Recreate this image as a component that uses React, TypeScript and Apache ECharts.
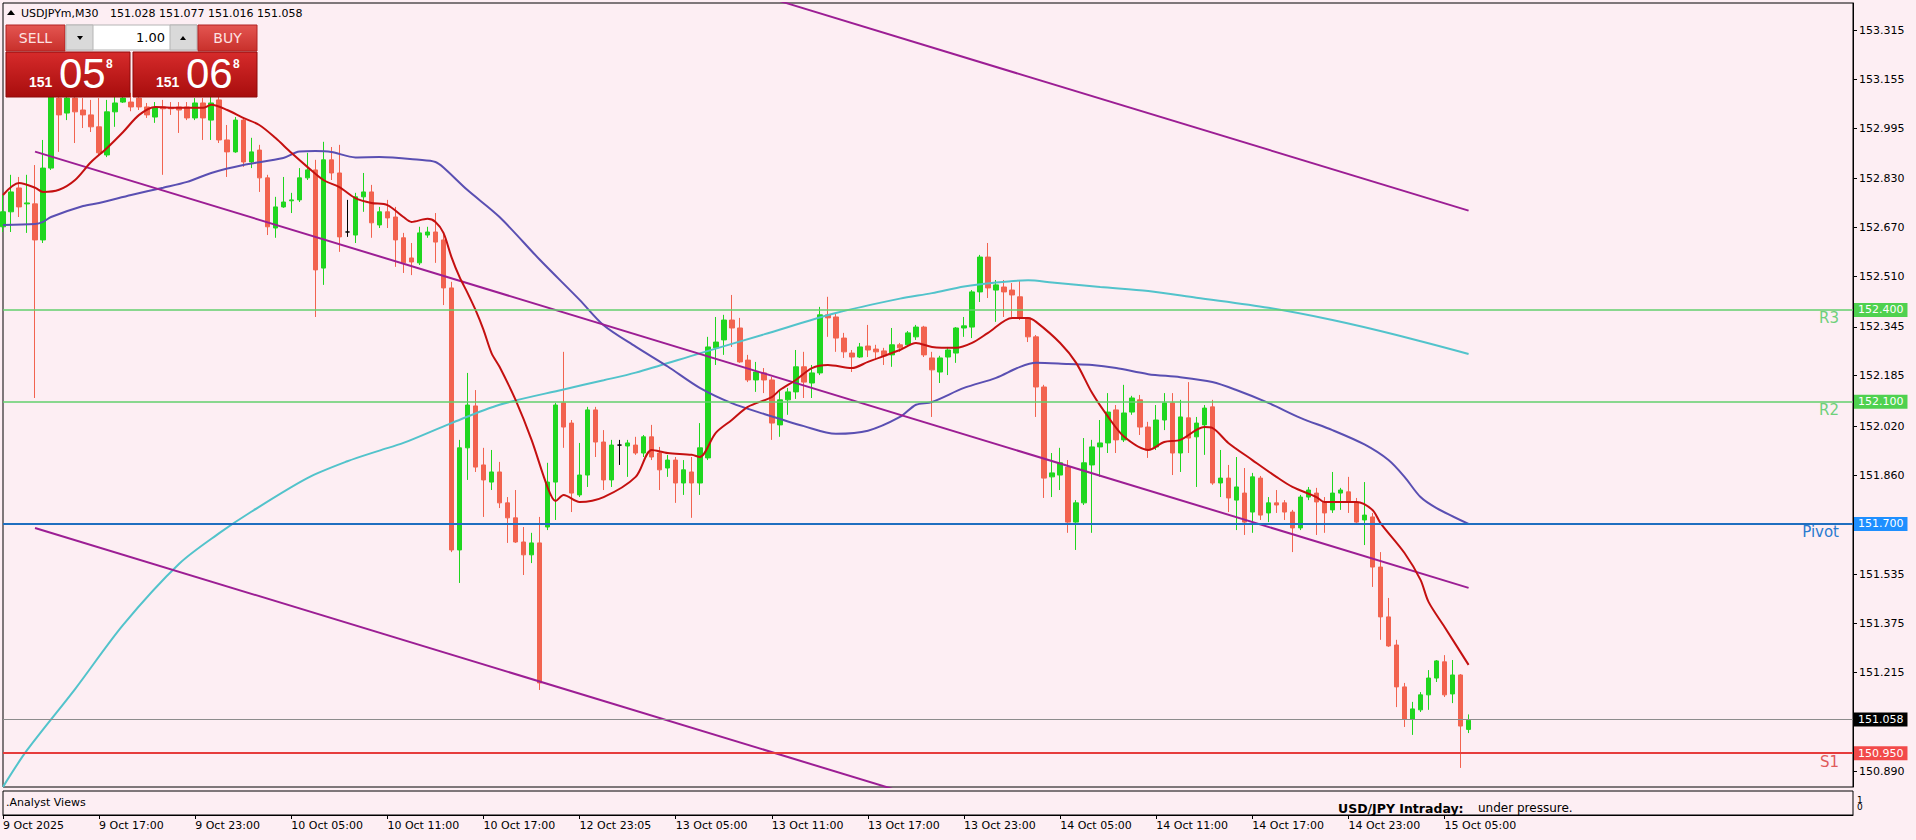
import React, { useEffect, useRef } from "react";
import * as echarts from "echarts";

// ---------- data ----------
const symbolName = "USDJPYm,M30";
const ohlcHeader = [151.028, 151.077, 151.016, 151.058];
const bidParts = ["151", "05", "8"];
const askParts = ["151", "06", "8"];
const lotSize = "1.00";
const indicatorName = ".Analyst Views";
const analystTitle = "USD/JPY Intraday:";
const analystText = "under pressure.";

// one entry per M30 bar: [open, high, low, close]
const candles: number[][] = [
  [152.672, 152.776, 152.655, 152.721], [152.721, 152.842, 152.655, 152.786], [152.799, 152.835, 152.704, 152.737], [152.747, 152.842, 152.652, 152.750],
  [152.747, 152.874, 152.112, 152.629], [152.629, 152.956, 152.619, 152.864], [152.864, 153.169, 152.858, 153.103], [153.093, 153.120, 152.917, 153.038],
  [153.044, 153.120, 153.021, 153.093], [153.093, 153.113, 152.946, 153.048], [153.054, 153.093, 152.995, 153.038], [153.038, 153.087, 152.982, 152.999],
  [152.999, 153.093, 152.907, 152.914], [152.907, 153.087, 152.900, 153.048], [153.048, 153.097, 152.999, 153.077], [153.080, 153.103, 153.077, 153.093],
  [153.080, 153.110, 153.050, 153.064], [153.093, 153.103, 153.054, 153.064], [153.064, 153.077, 153.028, 153.038], [153.031, 153.080, 153.012, 153.061],
  [153.064, 153.087, 152.842, 153.058], [153.061, 153.080, 153.038, 153.058], [153.064, 153.080, 152.979, 153.054], [153.064, 153.080, 153.021, 153.028],
  [153.028, 153.093, 153.021, 153.077], [153.077, 153.093, 152.956, 153.028], [153.021, 153.097, 152.956, 153.077], [153.087, 153.097, 152.946, 152.956],
  [152.956, 153.005, 152.835, 152.917], [152.917, 153.031, 152.914, 153.021], [153.021, 153.028, 152.868, 152.884], [152.884, 152.963, 152.864, 152.917],
  [152.923, 152.940, 152.786, 152.832], [152.832, 152.842, 152.645, 152.672], [152.668, 152.770, 152.636, 152.737], [152.737, 152.835, 152.734, 152.753],
  [152.757, 152.783, 152.717, 152.760], [152.760, 152.864, 152.753, 152.832], [152.832, 152.914, 152.825, 152.858], [152.858, 152.891, 152.377, 152.531],
  [152.537, 152.950, 152.482, 152.891], [152.891, 152.933, 152.825, 152.848], [152.848, 152.940, 152.590, 152.639], [152.655, 152.760, 152.639, 152.655],
  [152.645, 152.783, 152.619, 152.770], [152.770, 152.848, 152.721, 152.786], [152.786, 152.809, 152.636, 152.685], [152.678, 152.737, 152.668, 152.721],
  [152.721, 152.760, 152.668, 152.701], [152.704, 152.737, 152.541, 152.629], [152.636, 152.652, 152.521, 152.554], [152.570, 152.619, 152.514, 152.557],
  [152.554, 152.672, 152.547, 152.652], [152.645, 152.672, 152.636, 152.655], [152.655, 152.717, 152.554, 152.622], [152.629, 152.652, 152.416, 152.472],
  [152.472, 152.492, 151.608, 151.615], [151.615, 151.975, 151.507, 151.949], [151.949, 152.194, 151.844, 152.089], [152.086, 152.138, 151.870, 151.886],
  [151.893, 151.949, 151.723, 151.844], [151.837, 151.942, 151.811, 151.870], [151.870, 151.903, 151.752, 151.769], [151.769, 151.788, 151.638, 151.720],
  [151.720, 151.811, 151.638, 151.641], [151.641, 151.690, 151.533, 151.599], [151.599, 151.671, 151.572, 151.638], [151.638, 151.723, 151.157, 151.180],
  [151.690, 151.900, 151.680, 151.837], [151.837, 152.096, 151.713, 152.089], [152.096, 152.263, 151.949, 152.017], [152.030, 152.040, 151.739, 151.801],
  [151.795, 151.965, 151.788, 151.860], [151.860, 152.083, 151.821, 152.073], [152.073, 152.083, 151.919, 151.968], [151.968, 152.007, 151.811, 151.844],
  [151.844, 151.975, 151.821, 151.958], [151.958, 151.975, 151.893, 151.958], [151.955, 151.975, 151.854, 151.965], [151.958, 151.985, 151.926, 151.932],
  [151.932, 151.991, 151.919, 151.985], [151.985, 152.024, 151.909, 151.919], [151.932, 151.952, 151.811, 151.877], [151.883, 151.926, 151.854, 151.909],
  [151.909, 151.919, 151.769, 151.834], [151.834, 151.909, 151.795, 151.877], [151.870, 151.919, 151.720, 151.834], [151.834, 152.030, 151.795, 151.949],
  [151.916, 152.312, 151.909, 152.279], [152.276, 152.377, 152.220, 152.295], [152.302, 152.384, 152.253, 152.367], [152.367, 152.449, 152.279, 152.341],
  [152.341, 152.374, 152.227, 152.230], [152.236, 152.253, 152.164, 152.171], [152.171, 152.230, 152.132, 152.197], [152.194, 152.210, 152.128, 152.171],
  [152.171, 152.181, 151.975, 152.030], [152.024, 152.138, 151.985, 152.106], [152.106, 152.145, 152.057, 152.132], [152.132, 152.269, 152.109, 152.214],
  [152.214, 152.263, 152.112, 152.164], [152.161, 152.220, 152.112, 152.194], [152.194, 152.410, 152.187, 152.384], [152.384, 152.443, 152.312, 152.374],
  [152.377, 152.390, 152.263, 152.308], [152.308, 152.325, 152.243, 152.263], [152.259, 152.269, 152.197, 152.246], [152.246, 152.292, 152.243, 152.279],
  [152.282, 152.351, 152.246, 152.269], [152.272, 152.286, 152.236, 152.263], [152.266, 152.276, 152.220, 152.250], [152.253, 152.341, 152.214, 152.286],
  [152.286, 152.292, 152.263, 152.276], [152.286, 152.331, 152.279, 152.325], [152.312, 152.351, 152.302, 152.344], [152.344, 152.348, 152.246, 152.253],
  [152.243, 152.263, 152.050, 152.204], [152.197, 152.250, 152.161, 152.243], [152.246, 152.279, 152.187, 152.269], [152.259, 152.344, 152.227, 152.341],
  [152.341, 152.377, 152.312, 152.348], [152.344, 152.465, 152.308, 152.459], [152.459, 152.580, 152.426, 152.573], [152.573, 152.619, 152.439, 152.472],
  [152.465, 152.498, 152.361, 152.482], [152.475, 152.498, 152.377, 152.459], [152.465, 152.488, 152.377, 152.449], [152.443, 152.498, 152.367, 152.377],
  [152.374, 152.377, 152.295, 152.312], [152.312, 152.318, 152.050, 152.148], [152.148, 152.155, 151.785, 151.850], [151.854, 151.932, 151.788, 151.867],
  [151.860, 151.949, 151.811, 151.900], [151.886, 151.909, 151.671, 151.706], [151.706, 151.778, 151.615, 151.769], [151.769, 151.981, 151.762, 151.900],
  [151.893, 151.975, 151.671, 151.952], [151.952, 152.040, 151.854, 151.965], [151.965, 152.128, 151.932, 152.066], [152.073, 152.089, 151.932, 151.975],
  [151.975, 152.155, 151.968, 152.063], [152.066, 152.119, 152.057, 152.112], [152.106, 152.122, 151.991, 152.017], [152.017, 152.034, 151.916, 151.942],
  [151.952, 152.089, 151.942, 152.040], [152.040, 152.128, 152.007, 152.096], [152.096, 152.128, 151.860, 151.932], [151.932, 152.106, 151.870, 152.050],
  [152.047, 152.164, 151.932, 151.981], [151.985, 152.050, 151.821, 152.030], [152.024, 152.089, 151.926, 152.079], [152.083, 152.106, 151.828, 151.834],
  [151.834, 151.942, 151.788, 151.850], [151.850, 151.893, 151.739, 151.785], [151.778, 151.919, 151.680, 151.821], [151.801, 151.883, 151.664, 151.706],
  [151.739, 151.867, 151.671, 151.854], [151.850, 151.857, 151.713, 151.729], [151.736, 151.788, 151.706, 151.769], [151.769, 151.811, 151.736, 151.762],
  [151.769, 151.778, 151.713, 151.739], [151.739, 151.746, 151.608, 151.687], [151.687, 151.795, 151.680, 151.788], [151.788, 151.821, 151.778, 151.811],
  [151.801, 151.818, 151.664, 151.772], [151.772, 151.788, 151.671, 151.736], [151.746, 151.870, 151.736, 151.801], [151.801, 151.818, 151.746, 151.811],
  [151.805, 151.854, 151.736, 151.772], [151.772, 151.785, 151.697, 151.706], [151.713, 151.837, 151.631, 151.729], [151.723, 151.736, 151.494, 151.559],
  [151.559, 151.608, 151.321, 151.396], [151.396, 151.458, 151.298, 151.301], [151.304, 151.321, 151.101, 151.167], [151.167, 151.180, 151.036, 151.062],
  [151.062, 151.118, 151.010, 151.095], [151.092, 151.150, 151.085, 151.141], [151.141, 151.222, 151.092, 151.196], [151.196, 151.255, 151.183, 151.252],
  [151.249, 151.271, 151.134, 151.141], [151.144, 151.255, 151.114, 151.206], [151.206, 151.209, 150.902, 151.039], [151.028, 151.077, 151.016, 151.058],
];

const totalSlots = 232; // bars + empty right shift
const timeLabels = [
  "9 Oct 2025", "9 Oct 17:00", "9 Oct 23:00", "10 Oct 05:00", "10 Oct 11:00", "10 Oct 17:00", "12 Oct 23:05", "13 Oct 05:00",
  "13 Oct 11:00", "13 Oct 17:00", "13 Oct 23:00", "14 Oct 05:00", "14 Oct 11:00", "14 Oct 17:00", "14 Oct 23:00", "15 Oct 05:00",
];
const priceTicks = [153.315, 153.155, 152.995, 152.83, 152.67, 152.51, 152.345, 152.185, 152.02, 151.86, 151.535, 151.375, 151.215, 150.89];
const priceMin = 150.8396;
const priceMax = 153.404;

const levelNames = ["R3", "R2", "Pivot", "S1"];
const levelValues = [152.4, 152.1, 151.7, 150.95];
const lastPrice = 151.058;

const redMA = [
  [0, 152.776], [2, 152.815], [4, 152.8], [5, 152.786], [7, 152.793], [9, 152.825], [11, 152.884], [13, 152.93], [15, 152.982], [17, 153.038],
  [19, 153.064], [22, 153.061], [25, 153.061], [26, 153.071], [28, 153.054], [30, 153.028], [32, 153.005], [34, 152.963], [36, 152.914], [38, 152.868],
  [40, 152.825], [42, 152.802], [44, 152.766], [46, 152.75], [48, 152.743], [50, 152.704], [51, 152.688], [53, 152.698], [54, 152.688], [55, 152.652],
  [56, 152.573], [57, 152.508], [58, 152.456], [59, 152.4], [60, 152.335], [61, 152.259], [62, 152.214], [64, 152.106], [66, 151.975], [68, 151.82],
  [69, 151.775], [70, 151.795], [72, 151.772], [75, 151.788], [79, 151.854], [81, 151.942], [83, 151.932], [86, 151.926], [87, 151.919], [89, 151.998],
  [91, 152.04], [93, 152.083], [96, 152.115], [97, 152.138], [99, 152.171], [101, 152.21], [103, 152.22], [106, 152.21], [108, 152.23], [112, 152.269],
  [114, 152.292], [116, 152.279], [119, 152.276], [121, 152.292], [123, 152.325], [126, 152.374], [128, 152.374], [129, 152.361], [132, 152.292], [134, 152.227],
  [136, 152.128], [138, 152.05], [140, 151.985], [143, 151.942], [145, 151.968], [147, 151.975], [150, 152.017], [151, 152.014], [153, 151.965], [156, 151.909],
  [159, 151.854], [161, 151.821], [164, 151.788], [165, 151.772], [169, 151.772], [171, 151.746], [172, 151.703], [175, 151.605], [177, 151.517], [178, 151.445],
  [180, 151.363], [183, 151.239],
];
const purpleMA = [
  [0, 152.678], [4, 152.681], [5, 152.688], [6, 152.704], [10, 152.74], [12, 152.75], [16, 152.776], [20, 152.8], [23, 152.819], [26, 152.848],
  [30, 152.874], [35, 152.897], [37, 152.918], [39, 152.92], [41, 152.917], [44, 152.899], [47, 152.9], [52, 152.891], [54, 152.884], [55, 152.866],
  [58, 152.792], [62, 152.704], [67, 152.565], [72, 152.433], [75, 152.35], [79, 152.28], [83, 152.215], [87, 152.145], [91, 152.095], [95, 152.06],
  [100, 152.02], [104, 151.995], [108, 152.005], [112, 152.05], [114, 152.09], [116, 152.099], [120, 152.145], [124, 152.178], [127, 152.214], [129, 152.227],
  [133, 152.223], [136, 152.22], [139, 152.21], [143, 152.19], [147, 152.18], [151, 152.164], [154, 152.138], [158, 152.096], [162, 152.047], [166, 152.007],
  [170, 151.96], [173, 151.909], [175, 151.854], [177, 151.788], [179, 151.752], [183, 151.7],
];
const cyanMA = [
  [0, 150.84], [3, 150.96], [9, 151.16], [15, 151.37], [22, 151.57], [27, 151.67], [31, 151.74], [38, 151.85], [43, 151.905], [47, 151.94],
  [50, 151.965], [56, 152.03], [62, 152.09], [70, 152.14], [75, 152.17], [79, 152.195], [87, 152.258], [95, 152.32], [104, 152.39], [112, 152.437],
  [116, 152.455], [120, 152.477], [124, 152.49], [128, 152.497], [131, 152.49], [137, 152.475], [143, 152.462], [149, 152.44], [158, 152.407], [166, 152.367],
  [174, 152.318], [183, 152.256],
];
const channelUpper = [[97, 153.41], [183, 152.725]];
const channelMiddle = [[4, 152.918], [183, 151.491]];
const channelLower = [[4, 151.687], [111, 150.834]];

// ---------- styles ----------
const BG = "#fdeef3";
const FONT = "DejaVu Sans";
const BULL = "#1fd61f";
const BEAR = "#f2634f";
const levelStyle = [
  { line: "#62cf6c", box: "#4fd14f", text: "#6fd07a", width: 1.5 },
  { line: "#62cf6c", box: "#4fd14f", text: "#6fd07a", width: 1.5 },
  { line: "#1f6fc0", box: "#1e8fff", text: "#2a7bd0", width: 2 },
  { line: "#e63c3c", box: "#f24a4a", text: "#e05a5a", width: 2 },
];

function t(text: string, x: number, y: number, font: string, fill: string, align = "left") {
  return { type: "text", z: 101, x, y, style: { text, font, fill, align, verticalAlign: "middle" } };
}

export default function App() {
  const ref = useRef<HTMLDivElement>(null);

  useEffect(() => {
    const chart = echarts.init(ref.current!, null, { renderer: "svg", width: 1916, height: 840 });
    const categories = Array.from({ length: totalSlots }, (_, i) => String(i));
    const candleData = candles.map(([o, h, l, c]) => [o, c, l, h]);
    const showIdx = (i: number) => i % 12 === 0 && i / 12 < timeLabels.length;

    const markData: any[] = [];
    const nameMarks: any[] = [];
    levelValues.forEach((v, k) => {
      const s = levelStyle[k];
      markData.push({
        yAxis: v,
        lineStyle: { color: s.line, width: s.width, type: "solid" },
        label: {
          show: true, position: "end", formatter: v.toFixed(3), backgroundColor: s.box, color: "#fff",
          padding: [2, 4, 1, 4], distance: 1, fontSize: 11, fontFamily: FONT,
        },
      });
      nameMarks.push({
        yAxis: v,
        lineStyle: { color: "rgba(0,0,0,0)", width: 1 },
        label: {
          show: true, position: "insideEndBottom", formatter: levelNames[k], color: s.text,
          fontSize: 15, fontFamily: FONT, distance: [14, 1],
        },
      });
    });
    markData.push({
      yAxis: lastPrice,
      lineStyle: { color: "#8c8c8c", width: 1, type: "solid" },
      label: {
        show: true, position: "end", formatter: lastPrice.toFixed(3), backgroundColor: "#000", color: "#fff",
        padding: [2, 4, 1, 4], distance: 1, fontSize: 11, fontFamily: FONT,
      },
    });

    const gradBtn = () => new echarts.graphic.LinearGradient(0, 0, 0, 1, [
      { offset: 0, color: "#e45551" }, { offset: 1, color: "#c8302b" },
    ]);
    const gradBig = () => new echarts.graphic.LinearGradient(0, 0, 0, 1, [
      { offset: 0, color: "#d62b2b" }, { offset: 1, color: "#a80d0d" },
    ]);

    const graphic: any[] = [
      { type: "polygon", z: 101, shape: { points: [[7, 15], [15, 15], [11, 10]] }, style: { fill: "#000" } },
      t(symbolName, 21, 13, `11px ${FONT}`, "#000"),
      t(ohlcHeader.map((v) => v.toFixed(3)).join(" "), 110, 13, `11px ${FONT}`, "#000"),
      // trade panel
      { type: "rect", z: 100, shape: { x: 6, y: 25, width: 59, height: 26 }, style: { fill: gradBtn(), stroke: "#b02222", lineWidth: 1 } },
      { type: "rect", z: 100, shape: { x: 66, y: 25, width: 131, height: 25 }, style: { fill: "#fff", stroke: "#b5b5b5", lineWidth: 1 } },
      { type: "rect", z: 100, shape: { x: 66, y: 25, width: 27, height: 25 }, style: { fill: "#d9d9d9", stroke: "#b5b5b5", lineWidth: 1 } },
      { type: "rect", z: 100, shape: { x: 170, y: 25, width: 27, height: 25 }, style: { fill: "#d9d9d9", stroke: "#b5b5b5", lineWidth: 1 } },
      { type: "polygon", z: 101, shape: { points: [[77, 36], [83, 36], [80, 40]] }, style: { fill: "#000" } },
      { type: "polygon", z: 101, shape: { points: [[180, 40], [186, 40], [183, 36]] }, style: { fill: "#000" } },
      t(lotSize, 165, 37.5, `13px ${FONT}`, "#000", "right"),
      { type: "rect", z: 100, shape: { x: 198, y: 25, width: 59, height: 26 }, style: { fill: gradBtn(), stroke: "#b02222", lineWidth: 1 } },
      t("SELL", 35.5, 38, `14px ${FONT}`, "#fde2e2", "center"),
      t("BUY", 227.5, 38, `14px ${FONT}`, "#fde2e2", "center"),
      { type: "rect", z: 100, shape: { x: 6, y: 52, width: 124, height: 45 }, style: { fill: gradBig(), stroke: "#8e0b0b", lineWidth: 1 } },
      { type: "rect", z: 100, shape: { x: 133, y: 52, width: 124, height: 45 }, style: { fill: gradBig(), stroke: "#8e0b0b", lineWidth: 1 } },
      t(bidParts[0], 29, 82, "bold 14px Liberation Sans", "#fff"),
      t(bidParts[1], 59, 73, "42px Liberation Sans", "#fff"),
      t(bidParts[2], 106, 64, "bold 12px Liberation Sans", "#fff"),
      t(askParts[0], 156, 82, "bold 14px Liberation Sans", "#fff"),
      t(askParts[1], 186, 73, "42px Liberation Sans", "#fff"),
      t(askParts[2], 233, 64, "bold 12px Liberation Sans", "#fff"),
      // sub window
      t(indicatorName, 6, 802, `11px ${FONT}`, "#000"),
      t(analystTitle, 1338, 808, `bold 12.5px ${FONT}`, "#000"),
      t(analystText, 1478, 808, `12px ${FONT}`, "#000"),
      t("1", 1857, 800, `9px ${FONT}`, "#000"),
      t("0", 1857, 807, `9px ${FONT}`, "#000"),
    ];

    const lineSeries = (data: number[][], color: string, width: number, z: number, smooth: number | boolean) => ({
      type: "line", xAxisIndex: 0, yAxisIndex: 0, data, showSymbol: false, symbol: "none", smooth, z,
      lineStyle: { color, width }, silent: true, clip: true,
    });

    chart.setOption({
      animation: false,
      backgroundColor: BG,
      textStyle: { fontFamily: FONT },
      grid: [
        { left: 3, top: 3, width: 1850, height: 784, show: true, borderColor: "#000", borderWidth: 1, backgroundColor: "transparent" },
        { left: 3, top: 791, width: 1850, height: 24, show: true, borderColor: "#000", borderWidth: 1, backgroundColor: "transparent" },
      ],
      xAxis: [
        { type: "category", gridIndex: 0, data: categories, boundaryGap: false, show: false },
        {
          type: "category", gridIndex: 1, data: categories, boundaryGap: false, position: "bottom",
          axisLine: { show: true, lineStyle: { color: "#000", width: 1 } },
          axisTick: { show: true, interval: (i: number) => showIdx(i), length: 4, inside: false, lineStyle: { color: "#000" } },
          axisLabel: {
            show: true, interval: (i: number) => showIdx(i), align: "left", margin: 5, color: "#000",
            fontSize: 11, fontFamily: FONT, formatter: (_v: string, i: number) => timeLabels[i / 12] ?? "",
          },
          splitLine: { show: false },
        },
      ],
      yAxis: [
        {
          type: "value", gridIndex: 0, position: "right", min: priceMin, max: priceMax, scale: true,
          axisLine: { show: true, lineStyle: { color: "#000", width: 1 } },
          axisTick: { show: true, length: 4, inside: false, customValues: priceTicks, lineStyle: { color: "#000" } },
          axisLabel: {
            show: true, customValues: priceTicks, margin: 6, color: "#000", fontSize: 11, fontFamily: FONT,
            formatter: (v: number) => v.toFixed(3),
          },
          splitLine: { show: false },
        },
        { type: "value", gridIndex: 1, min: 0, max: 1, show: false },
      ],
      series: [
        {
          type: "line", xAxisIndex: 0, yAxisIndex: 0, data: [], z: 1, silent: true,
          markLine: { symbol: ["none", "none"], silent: true, animation: false, data: markData },
        },
        {
          type: "line", xAxisIndex: 0, yAxisIndex: 0, data: [], z: 5, silent: true,
          markLine: { symbol: ["none", "none"], silent: true, animation: false, data: nameMarks },
        },
        {
          type: "candlestick", xAxisIndex: 0, yAxisIndex: 0, data: candleData, barWidth: 5, z: 2, clip: true,
          itemStyle: { color: BULL, color0: BEAR, borderColor: BULL, borderColor0: BEAR, borderColorDoji: "#000", borderWidth: 1 },
        },
        lineSeries(cyanMA, "#52c3cb", 2, 3, 0.3),
        lineSeries(purpleMA, "#5a4fb2", 2, 3, 0.3),
        lineSeries(redMA, "#c41010", 2, 4, 0.3),
        lineSeries(channelUpper, "#9c1e94", 2, 3, false),
        lineSeries(channelMiddle, "#9c1e94", 2, 3, false),
        lineSeries(channelLower, "#9c1e94", 2, 3, false),
      ],
      graphic,
    });

    return () => chart.dispose();
  }, []);

  return (
    <div style={{ position: "fixed", left: 0, top: 0, width: 1916, height: 840, background: BG }}>
      <div ref={ref} style={{ width: 1916, height: 840 }} />
    </div>
  );
}
